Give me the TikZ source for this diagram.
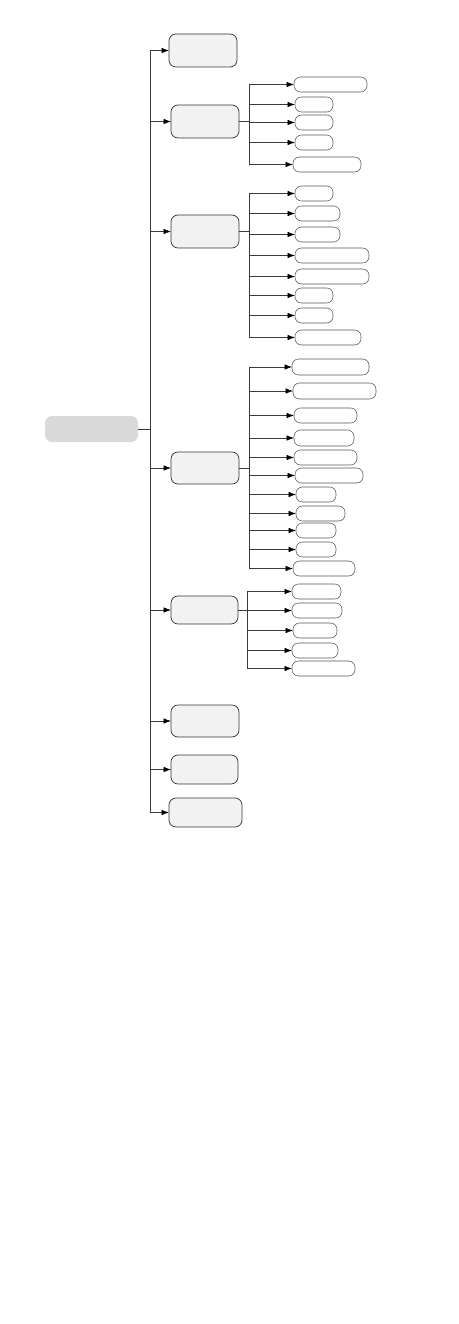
\documentclass[tikz,border=0pt]{standalone}
\usetikzlibrary{arrows.meta}
\definecolor{rootfill}{HTML}{D9D9D9}
\definecolor{lvfill}{HTML}{F2F2F2}
\definecolor{lvdraw}{HTML}{333333}
\definecolor{leafdraw}{HTML}{555555}
\definecolor{linec}{HTML}{3A3A3A}
\tikzset{
  rootbox/.style={fill=rootfill, draw=none, rounded corners=7pt, inner sep=0pt, outer sep=0pt},
  lvbox/.style={fill=lvfill, draw=lvdraw, line width=0.7pt, rounded corners=7pt, inner sep=0pt, outer sep=0pt},
  leafbox/.style={fill=white, draw=leafdraw, line width=0.55pt, rounded corners=6.5pt, inner sep=0pt, outer sep=0pt},
  conn/.style={draw=linec, line width=0.6pt},
  arr/.style={conn, -{Latex[length=7.5pt,width=5.5pt,fill=black,color=black]}}
}
\newcommand\mybox[6]{% style, name, x1, y1, x2, y2
  \node[#1, minimum width={#5-#3}, minimum height={#6-#4}] (#2) at ({(#3+#5)/2},{-(#4+#6)/2}) {};}
\begin{document}
\begin{tikzpicture}[x=1pt,y=1pt]
\useasboundingbox (0,0) rectangle (458,-1324);
% root
\mybox{rootbox}{R}{45}{416}{138}{442}
% level 1
\mybox{lvbox}{A}{169}{34}{237}{67}
\mybox{lvbox}{B}{171}{105}{239}{138}
\mybox{lvbox}{C}{171}{215}{239}{248}
\mybox{lvbox}{D}{171}{452}{239}{484}
\mybox{lvbox}{E}{171}{596}{238}{624}
\mybox{lvbox}{F}{171}{705}{239}{737}
\mybox{lvbox}{G}{171}{755}{238}{784}
\mybox{lvbox}{H}{169}{798}{242}{827}
% trunk
\coordinate (T) at (150,-429);
\coordinate (Ttop) at (150,-50.5);
\coordinate (Tbot) at (150,-812.5);
\draw[conn] (R.east) -- (T);
\draw[conn] (Ttop) -- (Tbot);
\foreach \n in {A,B,C,D,E,F,G,H} { \draw[arr] (T |- \n.west) -- (\n.west); }
% B children
\mybox{leafbox}{B1}{294}{77}{367}{92}
\mybox{leafbox}{B2}{295}{97}{333}{112}
\mybox{leafbox}{B3}{295}{115}{333}{130}
\mybox{leafbox}{B4}{295}{135}{333}{150}
\mybox{leafbox}{B5}{293}{157}{361}{172}
\coordinate (JB) at (249,-121.5);
\draw[conn] (B.east) -- (JB);
\draw[conn] (JB |- B1.west) -- (JB |- B5.west);
\foreach \n in {B1,B2,B3,B4,B5} { \draw[arr] (JB |- \n.west) -- (\n.west); }
% C children
\mybox{leafbox}{C1}{295}{186}{333}{201}
\mybox{leafbox}{C2}{295}{206}{340}{221}
\mybox{leafbox}{C3}{295}{227}{340}{242}
\mybox{leafbox}{C4}{295}{248}{369}{263}
\mybox{leafbox}{C5}{295}{269}{369}{284}
\mybox{leafbox}{C6}{295}{288}{333}{303}
\mybox{leafbox}{C7}{295}{308}{333}{323}
\mybox{leafbox}{C8}{295}{330}{361}{345}
\coordinate (JC) at (249,-231.5);
\draw[conn] (C.east) -- (JC);
\draw[conn] (JC |- C1.west) -- (JC |- C8.west);
\foreach \n in {C1,C2,C3,C4,C5,C6,C7,C8} { \draw[arr] (JC |- \n.west) -- (\n.west); }
% D children
\mybox{leafbox}{D1}{292}{359}{369}{375}
\mybox{leafbox}{D2}{293}{383}{376}{399}
\mybox{leafbox}{D3}{294}{408}{357}{423}
\mybox{leafbox}{D4}{294}{430}{354}{446}
\mybox{leafbox}{D5}{294}{450}{357}{465}
\mybox{leafbox}{D6}{295}{468}{363}{483}
\mybox{leafbox}{D7}{296}{487}{336}{502}
\mybox{leafbox}{D8}{296}{506}{345}{521}
\mybox{leafbox}{D9}{296}{523}{336}{538}
\mybox{leafbox}{D10}{296}{542}{336}{557}
\mybox{leafbox}{D11}{293}{561}{355}{576}
\coordinate (JD) at (249,-468);
\draw[conn] (D.east) -- (JD);
\draw[conn] (JD |- D1.west) -- (JD |- D11.west);
\foreach \n in {D1,D2,D3,D4,D5,D6,D7,D8,D9,D10,D11} { \draw[arr] (JD |- \n.west) -- (\n.west); }
% E children
\mybox{leafbox}{E1}{292}{584}{341}{599}
\mybox{leafbox}{E2}{292}{603}{342}{618}
\mybox{leafbox}{E3}{293}{623}{337}{638}
\mybox{leafbox}{E4}{292}{643}{338}{658}
\mybox{leafbox}{E5}{292}{661}{355}{676}
\coordinate (JE) at (247,-610);
\draw[conn] (E.east) -- (JE);
\draw[conn] (JE |- E1.west) -- (JE |- E5.west);
\foreach \n in {E1,E2,E3,E4,E5} { \draw[arr] (JE |- \n.west) -- (\n.west); }
\end{tikzpicture}
\end{document}
